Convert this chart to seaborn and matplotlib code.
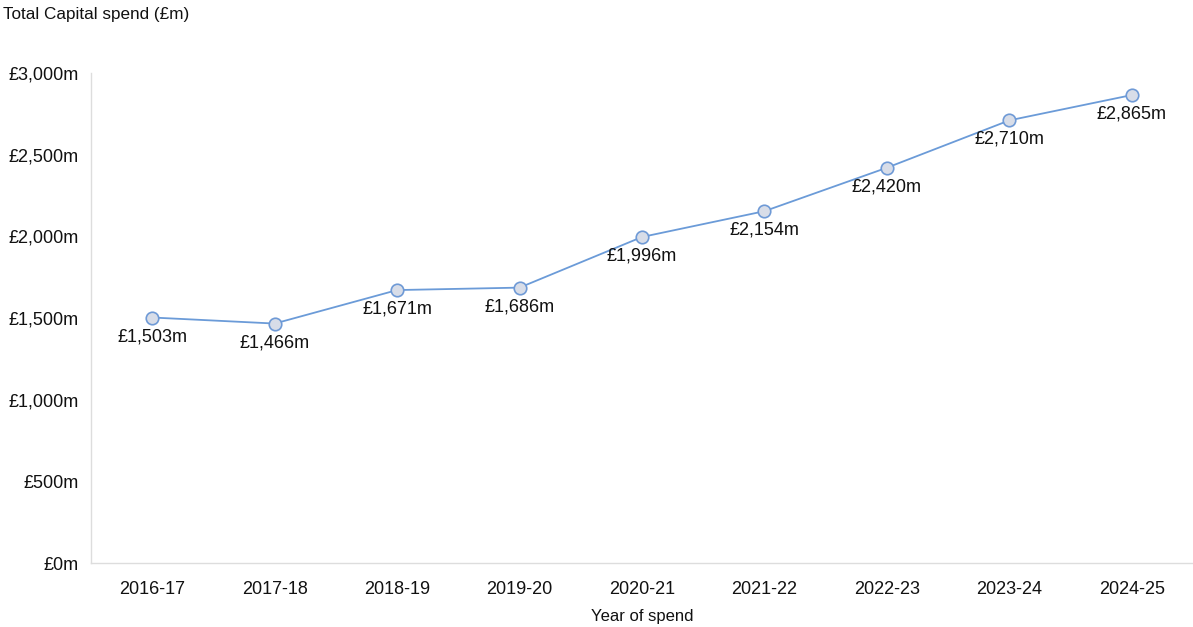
import matplotlib
matplotlib.use("Agg")
import matplotlib.pyplot as plt
import seaborn as sns
import pandas as pd
from matplotlib.ticker import FuncFormatter

years = ["2016-17", "2017-18", "2018-19", "2019-20", "2020-21",
         "2021-22", "2022-23", "2023-24", "2024-25"]
spend = [1503, 1466, 1671, 1686, 1996, 2154, 2420, 2710, 2865]
yticks = [0, 500, 1000, 1500, 2000, 2500, 3000]

sns.set_theme(style="white")
plt.rcParams['font.family'] = ['Liberation Sans', 'DejaVu Sans']

df = pd.DataFrame({"year": years, "spend": spend})

W, H = 1193, 627
fig = plt.figure(figsize=(W / 100, H / 100), dpi=100)
ax = fig.add_axes([91 / W, 1 - 563 / H, (W - 91) / W, (563 - 73) / H])

line_c = "#6b9bd8"
sns.lineplot(data=df, x="year", y="spend", ax=ax, color=line_c, linewidth=1.3,
             marker="o", markersize=9, markerfacecolor="#d8dde8",
             markeredgecolor="#6f9ad6", markeredgewidth=1.2, sort=False)

for i, v in enumerate(spend):
    ax.annotate(f"£{v:,}m", (i, v), xytext=(0, -19), textcoords="offset pixels",
                ha="center", va="center", fontsize=13, color="#111111")

ax.set_xlim(-0.5, len(years) - 0.5)
ax.set_ylim(0, 3000)
ax.set_yticks(yticks)
ax.yaxis.set_major_formatter(FuncFormatter(lambda v, p: f"£{int(v):,}m"))
ax.tick_params(axis="both", labelsize=13, colors="#111111", length=0)
ax.tick_params(axis="y", pad=9)
ax.tick_params(axis="x", pad=13)
ax.set_xlabel("Year of spend", fontsize=12, color="#111111", labelpad=8)
ax.set_ylabel("")
ax.grid(False)
for s in ["top", "right"]:
    ax.spines[s].set_visible(False)
for s in ["left", "bottom"]:
    ax.spines[s].set_color("#dddddd")
    ax.spines[s].set_linewidth(1)

fig.text(3 / W, 1 - 15 / H, "Total Capital spend (£m)", fontsize=12.3,
         color="#111111", ha="left", va="center")

fig.savefig("out.png", dpi=100)
